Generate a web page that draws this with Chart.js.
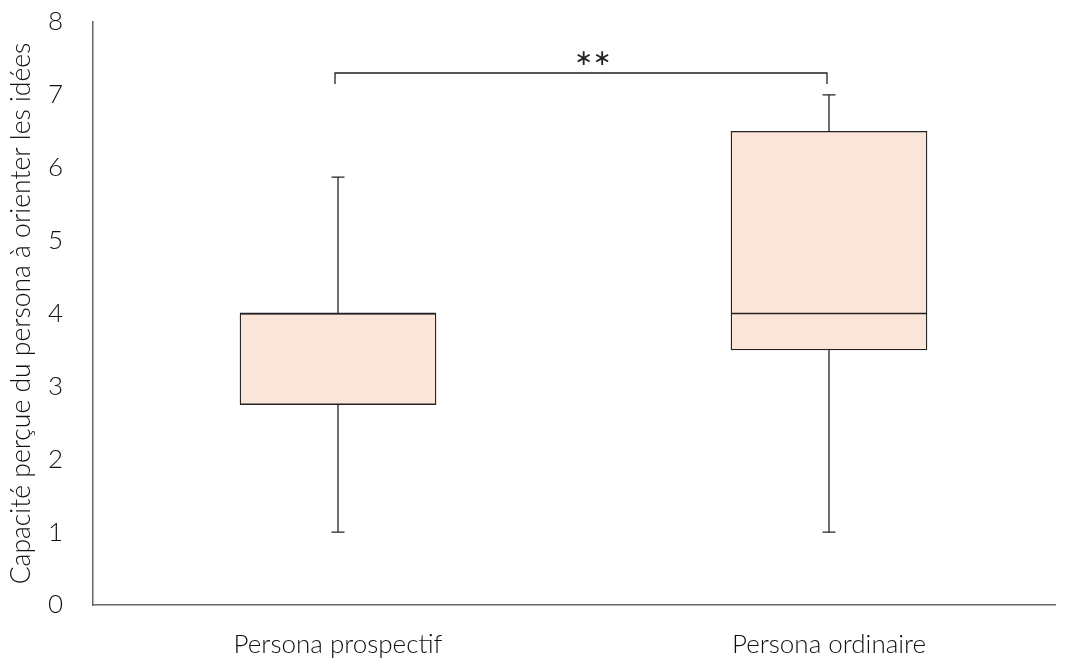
<!DOCTYPE html>
<html><head><meta charset="utf-8">
<script src="https://cdn.jsdelivr.net/npm/chart.js@4"></script>
<style>html,body{margin:0;padding:0;background:#fff}</style>
</head><body>
<canvas id="c" width="1067" height="664"></canvas>
<script>
const categories = ["Persona prospectif", "Persona ordinaire"];
const positions = [0, 1];
const mins = [1, 1];
const q1s = [2.75, 3.5];
const medians = [4, 4];
const q3s = [4, 6.5];
const maxs = [5.87, 7];
const yTicks = [0, 1, 2, 3, 4, 5, 6, 7, 8];
const bracketY = 7.3;
const bracketLabel = "∗∗";
const yTitle = "Capacité perçue du persona à orienter les idées";

const FONT = "Lato, 'Open Sans', sans-serif";

const whiskerPlugin = {
  id: 'whiskers',
  afterDatasetsDraw(chart) {
    const {ctx, scales: {x, y}} = chart;
    ctx.save();
    ctx.strokeStyle = '#222';
    ctx.lineWidth = 1.3;
    positions.forEach((p, i) => {
      const px = x.getPixelForValue(p);
      const half = 98;
      ctx.beginPath();
      ctx.moveTo(px, y.getPixelForValue(q3s[i])); ctx.lineTo(px, y.getPixelForValue(maxs[i]));
      ctx.moveTo(px, y.getPixelForValue(q1s[i])); ctx.lineTo(px, y.getPixelForValue(mins[i]));
      ctx.moveTo(px - 6.5, y.getPixelForValue(maxs[i])); ctx.lineTo(px + 6.5, y.getPixelForValue(maxs[i]));
      ctx.moveTo(px - 6.5, y.getPixelForValue(mins[i])); ctx.lineTo(px + 6.5, y.getPixelForValue(mins[i]));
      ctx.moveTo(px - half, y.getPixelForValue(medians[i])); ctx.lineTo(px + half, y.getPixelForValue(medians[i]));
      ctx.stroke();
    });
    // significance bracket
    const bx0 = x.getPixelForValue(positions[0]) - 3;
    const bx1 = x.getPixelForValue(positions[1]) - 2;
    const by = y.getPixelForValue(bracketY);
    ctx.beginPath();
    ctx.moveTo(bx0, by + 11); ctx.lineTo(bx0, by); ctx.lineTo(bx1, by); ctx.lineTo(bx1, by + 11);
    ctx.stroke();
    ctx.fillStyle = '#222';
    ctx.font = "22px 'DejaVu Sans', sans-serif";
    ctx.textAlign = 'center';
    ctx.textBaseline = 'middle';
    ctx.fillText(bracketLabel, (bx0 + bx1) / 2 + 12, by - 14);
    ctx.restore();
  }
};

new Chart(document.getElementById('c'), {
  type: 'bar',
  data: {
    datasets: [{
      data: positions.map((p, i) => ({x: p, y: [q1s[i], q3s[i]]})),
      backgroundColor: '#FAE5D8',
      borderColor: '#222',
      borderWidth: 1.3,
      borderSkipped: false,
      barThickness: 196
    }]
  },
  options: {
    responsive: false,
    animation: false,
    layout: {padding: {top: 0, right: 12, left: 0, bottom: 0}},
    plugins: {legend: {display: false}, tooltip: {enabled: false}},
    scales: {
      x: {
        type: 'linear',
        offset: false,
        min: -0.499,
        max: 1.4603,
        afterBuildTicks: (s) => { s.ticks = positions.map(v => ({value: v})); },
        afterFit: (s) => { s.height = 59; },
        ticks: {
          callback: (v) => categories[positions.indexOf(v)] ?? '',
          font: {family: FONT, size: 26, weight: '300'},
          color: '#111',
          padding: 24,
          maxRotation: 0,
          autoSkip: false
        },
        grid: {display: false, drawTicks: false},
        border: {color: '#666', width: 1.5}
      },
      y: {
        min: 0, max: 8,
        afterBuildTicks: (s) => { s.ticks = yTicks.map(v => ({value: v})); },
        afterFit: (s) => { s.width = 93; s.paddingTop = 22; s.paddingBottom = 0; },
        ticks: {font: {family: FONT, size: 26, weight: '300'}, color: '#111', padding: 30},
        grid: {display: false, drawTicks: false},
        border: {color: '#666', width: 1.5},
        title: {display: true, text: yTitle, font: {family: FONT, size: 26.5, weight: '300'}, color: '#111', padding: {top: 6, bottom: 0}}
      }
    }
  },
  plugins: [whiskerPlugin]
});
</script>
</body></html>
